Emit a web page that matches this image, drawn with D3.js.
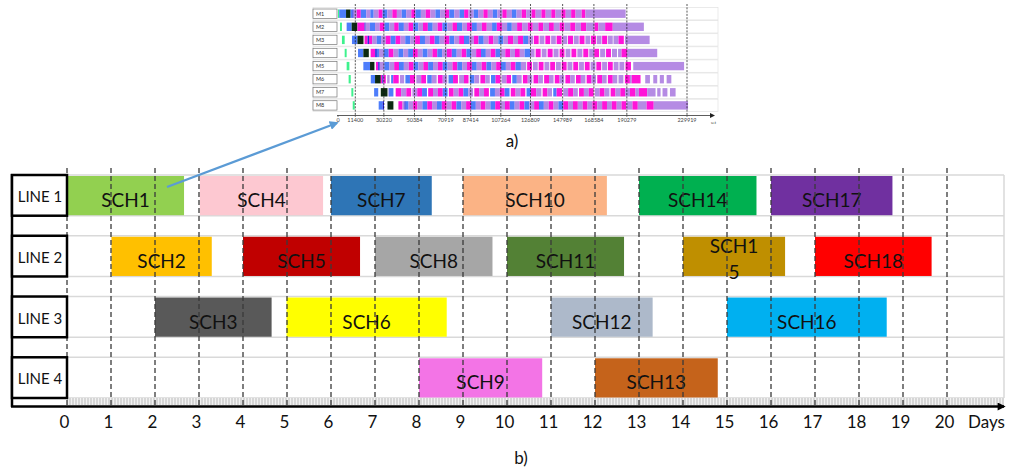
<!DOCTYPE html>
<html>
<head>
<meta charset="utf-8">
<script src="https://cdn.jsdelivr.net/npm/d3@7"></script>
<style>
  body { margin: 0; background: #fff; }
  text { font-family: Lato, "Open Sans", sans-serif; }
</style>
</head>
<body>
<svg id="chart" width="1011" height="469"></svg>
<script>
// ---- b) line schedule ----
var lines = ["LINE 1", "LINE 2", "LINE 3", "LINE 4"];
var dayTicks = [0, 1, 2, 3, 4, 5, 6, 7, 8, 9, 10, 11, 12, 13, 14, 15, 16, 17, 18, 19, 20];
var jobs     = ["SCH1", "SCH2", "SCH3", "SCH4", "SCH5", "SCH6", "SCH7", "SCH8", "SCH9",
                "SCH10", "SCH11", "SCH12", "SCH13", "SCH14", "SCH15", "SCH16", "SCH17", "SCH18"];
var jobLine  = ["LINE 1", "LINE 2", "LINE 3", "LINE 1", "LINE 2", "LINE 3", "LINE 1", "LINE 2", "LINE 4",
                "LINE 1", "LINE 2", "LINE 3", "LINE 4", "LINE 1", "LINE 2", "LINE 3", "LINE 1", "LINE 2"];
var jobStart = [0, 1.01, 2, 3.02, 4, 4.99, 6, 7, 8, 9, 10, 11, 12, 13, 14, 15, 16, 17];
var jobEnd   = [2.66, 3.29, 4.65, 5.82, 6.66, 8.63, 8.29, 9.67, 10.8, 12.27, 12.66, 13.31, 14.79, 15.67, 16.32, 18.63, 18.76, 19.65];

// ---- a) machine gantt (values in thousands of u.t.) ----
var machines = ["M1", "M2", "M3", "M4", "M5", "M6", "M7", "M8"];
var utTicks = [0, 11400, 30220, 50384, 70919, 87414, 107264, 126809, 147989, 168584, 190279, 229919];
// each entry: [start, kind]; a segment runs to the next start, "w" = idle gap
var opsM1 = [[0,'g'],[0.8,'b'],[5.3,'k'],[8.3,'b'],[9.5,'d'],[10.3,'l'],[12.4,'p'],[15,'b'],[18.6,'l'],[21.3,'b'],[23.5,'l'],[26.7,'p'],[29.4,'b'],[32.5,'l'],[35.8,'p'],[38.8,'l'],[42,'b'],[44.9,'l'],[48.3,'p'],[51,'b'],[54.6,'l'],[57.8,'p'],[60.9,'l'],[64.2,'b'],[67.3,'l'],[70.5,'p'],[73.3,'b'],[76.6,'l'],[80,'b'],[83.1,'p'],[86,'l'],[89.4,'b'],[92.3,'l'],[95.8,'p'],[98.7,'l'],[102,'b'],[105,'l'],[108.3,'p'],[111.2,'l'],[114.6,'b'],[117.6,'l'],[121,'p'],[124,'l'],[127.5,'p'],[130.2,'l'],[134,'p'],[136.8,'l'],[140.5,'p'],[143.3,'l'],[147.2,'p'],[150,'l'],[153.6,'p'],[156.5,'l'],[160.5,'p'],[163,'l'],[189.5,'']];
var opsM2 = [[1.3,'g'],[2.6,'w'],[5.7,'b'],[9,'k'],[12.8,'p'],[17.5,'d'],[18.2,'l'],[21,'b'],[24.4,'l'],[27.5,'p'],[30.6,'b'],[33.8,'l'],[37,'p'],[40,'b'],[43.4,'l'],[46.4,'p'],[49.6,'b'],[53,'l'],[56,'p'],[59.2,'b'],[62.4,'l'],[65.6,'p'],[68.8,'b'],[72,'l'],[75.4,'p'],[78.4,'b'],[81.8,'l'],[85,'p'],[88.2,'b'],[91.5,'l'],[94.8,'p'],[98,'l'],[101.5,'b'],[104.6,'p'],[108,'l'],[111.4,'b'],[114.5,'l'],[118,'p'],[121.3,'l'],[125,'p'],[128.3,'l'],[132,'p'],[135.2,'l'],[139,'p'],[142.2,'l'],[146,'p'],[149.2,'l'],[153,'p'],[156.4,'l'],[160,'p'],[163.5,'l'],[169,'p'],[171.5,'l'],[176,'p'],[181,'l'],[201.5,'']];
var opsM3 = [[2.6,'g'],[4.4,'w'],[9.2,'b'],[12.8,'k'],[16.8,'w'],[17.5,'p'],[19.5,'d'],[20.4,'p'],[22.5,'l'],[25.5,'b'],[28.4,'l'],[31.5,'p'],[34.7,'b'],[38,'p'],[41.2,'l'],[44.3,'b'],[47.6,'l'],[50.8,'p'],[54,'b'],[57.3,'l'],[60.5,'p'],[63.7,'b'],[67,'l'],[70.2,'p'],[73.4,'b'],[76.6,'l'],[79.8,'p'],[83,'b'],[86.3,'l'],[89.5,'p'],[92.6,'b'],[96,'l'],[99.2,'p'],[102.4,'l'],[105.6,'b'],[109,'l'],[112,'p'],[115.4,'l'],[118.6,'p'],[122,'b'],[125.2,'l'],[128.5,'w'],[129,'p'],[132.2,'w'],[132.8,'l'],[136,'w'],[136.6,'p'],[139.8,'w'],[140.4,'l'],[143.5,'w'],[144,'p'],[147.3,'w'],[147.8,'l'],[151,'w'],[151.5,'p'],[154.8,'w'],[155.3,'l'],[158.6,'w'],[159.1,'p'],[162.4,'w'],[163,'l'],[166.2,'w'],[166.7,'p'],[170,'w'],[170.5,'l'],[173.6,'w'],[174,'p'],[177.3,'w'],[177.8,'l'],[181,'w'],[181.5,'l'],[184.8,'p'],[188.3,'w'],[189,'l'],[205.3,'']];
var opsM4 = [[4.4,'g'],[5.7,'w'],[13.2,'b'],[16.7,'k'],[20.3,'w'],[21.5,'p'],[24.5,'d'],[25.6,'b'],[27,'l'],[30.2,'b'],[33.4,'p'],[36.6,'l'],[39.8,'b'],[43,'l'],[46.2,'b'],[49.4,'p'],[52.6,'l'],[55.8,'b'],[59,'l'],[62.2,'p'],[65.4,'b'],[68.6,'l'],[71.8,'p'],[75,'b'],[78.2,'l'],[81.4,'p'],[84.6,'b'],[87.8,'l'],[91,'p'],[94.2,'b'],[97.4,'l'],[100.6,'p'],[103.8,'b'],[107,'l'],[110.2,'p'],[113.4,'l'],[116.6,'p'],[119.8,'l'],[123,'b'],[126.5,'l'],[129.5,'w'],[130.2,'p'],[133.5,'w'],[134.2,'l'],[137.4,'w'],[138.1,'p'],[141.4,'w'],[142,'l'],[145.3,'w'],[146,'p'],[149.2,'w'],[149.9,'l'],[153.1,'w'],[153.8,'p'],[157,'w'],[157.7,'l'],[161,'w'],[161.6,'p'],[164.9,'w'],[165.5,'l'],[168.8,'p'],[172,'w'],[172.7,'l'],[176,'w'],[176.6,'p'],[179.8,'w'],[180.5,'l'],[183.8,'w'],[184.5,'l'],[186.8,'p'],[190.5,'l'],[210.3,'']];
var opsM5 = [[5.7,'g'],[7.5,'w'],[16.7,'b'],[21.1,'k'],[24,'w'],[25,'p'],[26.5,'d'],[27.5,'l'],[30.5,'b'],[33.8,'l'],[37,'p'],[40.2,'b'],[43.4,'l'],[46.6,'p'],[49.8,'b'],[53,'l'],[56.2,'p'],[59.4,'b'],[62.6,'l'],[65.8,'p'],[69,'b'],[72.2,'l'],[75.4,'p'],[78.6,'b'],[81.8,'l'],[85,'p'],[88.2,'b'],[91.4,'l'],[94.6,'p'],[97.8,'b'],[101,'l'],[104.2,'p'],[107.4,'b'],[110.6,'l'],[113.8,'p'],[117,'b'],[120.5,'l'],[124,'w'],[124.6,'p'],[127.8,'w'],[128.4,'l'],[131.6,'w'],[132.2,'p'],[135.4,'w'],[136,'l'],[139.2,'w'],[139.8,'p'],[143,'w'],[143.6,'l'],[146.8,'w'],[147.4,'p'],[150.6,'w'],[151.2,'l'],[154.4,'w'],[155,'p'],[158.2,'w'],[158.8,'l'],[162,'w'],[162.6,'p'],[165.8,'w'],[166.4,'l'],[169.6,'w'],[170.2,'p'],[173.4,'w'],[174,'l'],[177.2,'w'],[177.8,'p'],[181,'w'],[181.6,'l'],[184.8,'w'],[185.4,'l'],[188.6,'w'],[189.4,'p'],[193,'w'],[194.5,'l'],[228,'']];
var opsM6 = [[7,'g'],[8.4,'w'],[21.6,'b'],[24.4,'k'],[28.2,'p'],[29.2,'d'],[30,'p'],[31.5,'w'],[32.4,'l'],[34,'w'],[35,'b'],[36.4,'p'],[40,'w'],[40.8,'l'],[43.6,'w'],[44.4,'b'],[47.4,'p'],[50.8,'w'],[51.6,'l'],[54.8,'p'],[58,'w'],[58.8,'b'],[61.8,'l'],[65,'w'],[65.8,'p'],[69,'l'],[72,'w'],[72.8,'b'],[75.8,'p'],[79,'w'],[79.8,'l'],[83,'p'],[86,'w'],[86.8,'b'],[89.8,'l'],[93,'w'],[93.8,'p'],[97,'l'],[100,'w'],[100.8,'b'],[103.8,'p'],[107,'w'],[107.8,'l'],[111,'p'],[114,'w'],[114.8,'b'],[117.8,'l'],[121,'w'],[121.8,'p'],[125,'l'],[128,'w'],[128.8,'p'],[132,'l'],[135,'w'],[135.8,'p'],[139,'l'],[142,'w'],[142.8,'p'],[146,'l'],[149,'w'],[149.8,'p'],[153,'l'],[156,'w'],[156.8,'p'],[160,'l'],[163,'w'],[163.8,'p'],[167,'l'],[170,'w'],[170.8,'p'],[174,'l'],[177,'w'],[177.8,'p'],[181,'l'],[184,'w'],[184.8,'l'],[188,'w'],[189,'p'],[192.3,'l'],[193.5,'p'],[199.3,'w'],[202.4,'l'],[205.5,'w'],[207.7,'l'],[210.3,'w'],[212,'l'],[214.7,'w'],[216.5,'l'],[219.6,'']];
var opsM7 = [[8.8,'g'],[10.1,'w'],[23.8,'b'],[26.5,'w'],[28.2,'k'],[32.6,'w'],[33.4,'d'],[34,'b'],[36.5,'w'],[38,'p'],[41.6,'l'],[45,'p'],[48.2,'w'],[49,'l'],[52.2,'p'],[55.4,'b'],[58.6,'w'],[59.4,'p'],[62.6,'l'],[65.8,'p'],[69,'b'],[72.2,'w'],[73,'p'],[76.2,'l'],[79.4,'p'],[82.6,'b'],[85.8,'l'],[89,'w'],[89.8,'p'],[93,'l'],[96.2,'p'],[99.4,'w'],[100.2,'b'],[103.4,'l'],[106.6,'p'],[109.8,'b'],[113,'w'],[113.8,'p'],[117,'l'],[120.2,'p'],[123.4,'w'],[124.2,'b'],[127,'p'],[130.6,'l'],[134,'w'],[134.8,'p'],[138,'l'],[141,'w'],[141.8,'b'],[144,'p'],[147.6,'w'],[148.4,'l'],[151.6,'p'],[155,'l'],[158,'w'],[158.8,'p'],[162,'l'],[165.2,'p'],[168.4,'w'],[169.2,'l'],[172.4,'p'],[175.6,'l'],[178.8,'w'],[179.6,'p'],[182.8,'l'],[186,'p'],[189.2,'l'],[192.3,'p'],[196,'l'],[198.2,'p'],[203.7,'l'],[209.2,'w'],[210.3,'l'],[212.5,'w'],[213.8,'l'],[217,'w'],[218.7,'l'],[222.4,'']];
var opsM8 = [[9.7,'g'],[11,'w'],[26.8,'b'],[29.4,'d'],[30.3,'w'],[32.6,'k'],[36.5,'w'],[39.8,'p'],[42.5,'l'],[43.8,'d'],[44.6,'b'],[46.5,'l'],[49.5,'p'],[52.4,'l'],[55.6,'b'],[58.8,'p'],[62,'l'],[65.2,'b'],[68.4,'p'],[71.6,'l'],[74.8,'p'],[78,'b'],[81.2,'l'],[84.4,'p'],[87.6,'b'],[90.8,'l'],[94,'p'],[97.2,'l'],[100.4,'b'],[103.6,'p'],[106.8,'l'],[110,'p'],[113.2,'b'],[116.4,'l'],[119.6,'p'],[122.8,'b'],[126,'l'],[129.2,'p'],[132.4,'b'],[135.6,'l'],[138.8,'p'],[142,'l'],[145.2,'b'],[148.4,'p'],[151.6,'l'],[154.8,'p'],[158,'l'],[161.2,'p'],[164.4,'l'],[167.6,'p'],[170.8,'l'],[174,'p'],[177.2,'l'],[180.4,'p'],[183.6,'l'],[186.8,'p'],[190,'l'],[194,'p'],[197.5,'l'],[203.3,'p'],[208,'l'],[230.6,'']];
var machineOps = [opsM1, opsM2, opsM3, opsM4, opsM5, opsM6, opsM7, opsM8];

// colours
var jobColor = {
  SCH1: "#92d050", SCH2: "#ffc000", SCH3: "#595959", SCH4: "#fdc8d1", SCH5: "#c00000", SCH6: "#ffff00",
  SCH7: "#2e75b6", SCH8: "#a6a6a6", SCH9: "#f374e6", SCH10: "#fbb385", SCH11: "#538135", SCH12: "#adb9ca",
  SCH13: "#c5631b", SCH14: "#00b050", SCH15: "#bf8f00", SCH16: "#00b0f0", SCH17: "#7030a0", SCH18: "#ff0000"
};
var opColor = { g: "#3df28d", b: "#4d7dfb", p: "#ff14d8", l: "#b58be4", d: "#1f22e0", k: "#0d2a12" };
var wrapped = { SCH15: ["SCH1", "5"] };

var svg = d3.select("#chart");
var defs = svg.append("defs");

var hatch = defs.append("pattern").attr("id", "hatch").attr("width", 3).attr("height", 8)
    .attr("patternUnits", "userSpaceOnUse");
hatch.append("rect").attr("width", 3).attr("height", 8).attr("fill", "#d6d6d6");
hatch.append("rect").attr("x", 2).attr("width", 1).attr("height", 8).attr("fill", "#f2f2f2");

function marker(id, color, w, h) {
  defs.append("marker").attr("id", id).attr("viewBox", "0 0 10 10").attr("refX", 8).attr("refY", 5)
      .attr("markerUnits", "userSpaceOnUse").attr("markerWidth", w).attr("markerHeight", h)
      .attr("orient", "auto")
    .append("path").attr("d", "M0,0L10,5L0,10Z").attr("fill", color);
}
marker("arrBlack", "#000", 9, 8);
marker("arrBlue", "#5b9bd5", 9, 9);
marker("arrSmall", "#222", 5, 5);

// ================= b) =================
var x = d3.scaleLinear().domain([0, 20]).range([67, 947]);
var y = d3.scaleBand().domain(lines).range([175, 398]).paddingInner(0.33);
var bw = y.bandwidth();

var grid = svg.append("g");
grid.selectAll("line.h").data(lines.flatMap(function(l) { return [y(l), y(l) + bw]; }))
  .join("line").attr("class", "h")
  .attr("x1", 67).attr("x2", 1004).attr("y1", function(d) { return d; }).attr("y2", function(d) { return d; })
  .attr("stroke", "#d9d9d9").attr("stroke-width", 1.5);
grid.append("line").attr("x1", 1004).attr("x2", 1004).attr("y1", y(lines[0])).attr("y2", 398)
  .attr("stroke", "#d9d9d9").attr("stroke-width", 1.5);
grid.append("rect").attr("x", 67).attr("y", 398).attr("width", 937).attr("height", 7).attr("fill", "url(#hatch)");

var bars = svg.append("g");
bars.selectAll("rect").data(jobs).join("rect")
  .attr("x", function(d, i) { return x(jobStart[i]); })
  .attr("y", function(d, i) { return y(jobLine[i]) + 1; })
  .attr("width", function(d, i) { return x(jobEnd[i]) - x(jobStart[i]); })
  .attr("height", bw - 1.5)
  .attr("fill", function(d) { return jobColor[d]; });

var labels = bars.selectAll("text").data(jobs).join("text")
  .attr("x", function(d, i) { return (x(jobStart[i]) + x(jobEnd[i])) / 2; })
  .attr("y", function(d, i) { return y(jobLine[i]) + (wrapped[d] ? 17 : 32); })
  .attr("text-anchor", "middle").attr("font-size", 19).attr("fill", "#111");
labels.each(function(d) {
  var t = d3.select(this);
  if (wrapped[d]) {
    var cx = t.attr("x");
    wrapped[d].forEach(function(s, k) {
      t.append("tspan").attr("x", cx).attr("dy", k ? 26 : 0).text(s);
    });
  } else {
    t.text(d);
  }
});

svg.append("g").selectAll("line").data(dayTicks).join("line")
  .attr("x1", function(d) { return x(d); }).attr("x2", function(d) { return x(d); })
  .attr("y1", 168).attr("y2", 406)
  .attr("stroke", "#3a3a3a").attr("stroke-width", 1.3).attr("stroke-dasharray", "5,3");

// line label boxes
var side = svg.append("g");
side.append("line").attr("x1", 12).attr("x2", 12).attr("y1", 174).attr("y2", 407)
  .attr("stroke", "#000").attr("stroke-width", 2.5);
side.selectAll("rect").data(lines).join("rect")
  .attr("x", 12).attr("y", function(d) { return y(d); }).attr("width", 55).attr("height", bw)
  .attr("fill", "#fff").attr("stroke", "#000").attr("stroke-width", 2.5);
side.selectAll("text").data(lines).join("text")
  .attr("x", 40).attr("y", function(d) { return y(d) + 27; })
  .attr("text-anchor", "middle").attr("font-size", 15).attr("fill", "#111")
  .text(function(d) { return d; });

// axis
svg.append("line").attr("x1", 11).attr("x2", 1004).attr("y1", 406.5).attr("y2", 406.5)
  .attr("stroke", "#000").attr("stroke-width", 2.5).attr("marker-end", "url(#arrBlack)");
var ax = svg.append("g").attr("transform", "translate(-3,406)")
  .call(d3.axisBottom(x).tickValues(dayTicks).tickSize(0).tickPadding(10).tickFormat(d3.format("d")));
ax.select(".domain").remove();
ax.selectAll("text").attr("font-size", 17).attr("fill", "#111")
  .style("font-family", "Lato, 'Open Sans', sans-serif");
svg.append("text").attr("x", 968).attr("y", 428).attr("font-size", 17).attr("fill", "#111").text("Days");
svg.append("text").attr("x", 521).attr("y", 464).attr("text-anchor", "middle").attr("font-size", 17)
  .attr("fill", "#111").text("b)");

// ================= a) =================
var mx = d3.scaleLinear().domain([0, 229.919]).range([338, 687]);
var my = d3.scaleBand().domain(machines).range([9.5, 109.6]).paddingInner(0.36);
var mbw = my.bandwidth();
var mini = svg.append("g");

mini.selectAll("rect.row").data(machines).join("rect").attr("class", "row")
  .attr("x", 313).attr("y", function(d) { return my(d) - 2; }).attr("width", 405).attr("height", mbw + 4)
  .attr("fill", "none").attr("stroke", "#e2e2e2").attr("stroke-width", 0.7);
mini.selectAll("rect.lab").data(machines).join("rect").attr("class", "lab")
  .attr("x", 313).attr("y", function(d) { return my(d) - 0.5; }).attr("width", 24).attr("height", mbw + 1)
  .attr("fill", "#fff").attr("stroke", "#777").attr("stroke-width", 0.7);
mini.selectAll("text.lab").data(machines).join("text").attr("class", "lab")
  .attr("x", 316).attr("y", function(d) { return my(d) + mbw / 2 + 2; })
  .attr("font-size", 5.5).attr("fill", "#333").text(function(d) { return d; });

machines.forEach(function(m, i) {
  var ops = machineOps[i];
  var segs = ops.slice(0, -1).map(function(o, j) { return { s: o[0], e: ops[j + 1][0], k: o[1] }; })
    .filter(function(o) { return o.k !== "w"; });
  mini.append("g").selectAll("rect").data(segs).join("rect")
    .attr("x", function(d) { return mx(d.s); })
    .attr("y", my(m))
    .attr("width", function(d) { return mx(d.e) - mx(d.s); })
    .attr("height", mbw)
    .attr("fill", function(d) { return opColor[d.k]; });
});

mini.selectAll("line.dash").data(utTicks.slice(1)).join("line").attr("class", "dash")
  .attr("x1", function(d) { return mx(d / 1000); }).attr("x2", function(d) { return mx(d / 1000); })
  .attr("y1", 4).attr("y2", 115)
  .attr("stroke", "#111").attr("stroke-width", 0.7).attr("stroke-dasharray", "2,1.3");
mini.append("line").attr("x1", 337).attr("x2", 714).attr("y1", 115.5).attr("y2", 115.5)
  .attr("stroke", "#333").attr("stroke-width", 0.8).attr("marker-end", "url(#arrSmall)");
mini.selectAll("line.tk").data(utTicks).join("line").attr("class", "tk")
  .attr("x1", function(d) { return mx(d / 1000); }).attr("x2", function(d) { return mx(d / 1000); })
  .attr("y1", 115.5).attr("y2", 117).attr("stroke", "#333").attr("stroke-width", 0.6);
mini.selectAll("text.tk").data(utTicks).join("text").attr("class", "tk")
  .attr("x", function(d) { return mx(d / 1000); }).attr("y", 121.5)
  .attr("text-anchor", "middle").attr("font-size", 5.5).attr("fill", "#444")
  .text(function(d) { return d; });
mini.append("text").attr("x", 711).attr("y", 124).attr("font-size", 4.5).attr("fill", "#444").text("u.t");
svg.append("text").attr("x", 512).attr("y", 147).attr("text-anchor", "middle").attr("font-size", 17)
  .attr("fill", "#111").text("a)");

// link arrow from SCH1 to the detail chart
svg.append("line").attr("x1", 167).attr("y1", 187).attr("x2", 337).attr("y2", 123)
  .attr("stroke", "#5b9bd5").attr("stroke-width", 2.2).attr("marker-end", "url(#arrBlue)");
</script>
</body>
</html>
